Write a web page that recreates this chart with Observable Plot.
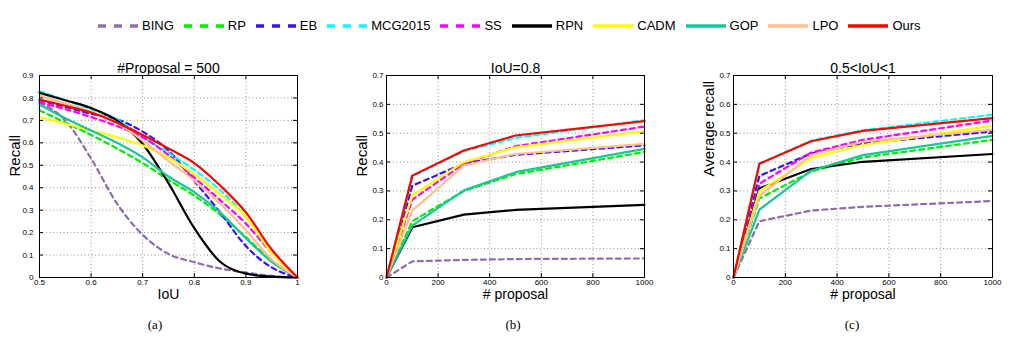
<!DOCTYPE html>
<html>
<head>
<meta charset="utf-8">
<script src="https://cdn.jsdelivr.net/npm/d3@7"></script>
<script src="https://cdn.jsdelivr.net/npm/@observablehq/plot@0.6"></script>
<style>
  body { margin: 0; background: #fff; width: 1024px; height: 339px; position: relative; overflow: hidden;
         font-family: "Liberation Sans", Arial, sans-serif; }
  .panel { position: absolute; top: 40px; }
  #legend { position: absolute; left: 98px; top: 18px; display: flex; align-items: center; font-size: 13px; white-space: nowrap; color: #000; }
  .item { display: flex; align-items: center; margin-right: 10px; }
  .item svg { margin-right: 4px; }
  .cap { position: absolute; top: 317px; font-family: "Liberation Serif", "Times New Roman", serif; font-size: 13px; transform: translateX(-50%); }
</style>
</head>
<body>
<div id="legend"></div>
<div id="pa" class="panel" style="left:0px"></div>
<div id="pb" class="panel" style="left:340px"></div>
<div id="pc" class="panel" style="left:680px"></div>
<div class="cap" style="left:155px">(a)</div>
<div class="cap" style="left:513px">(b)</div>
<div class="cap" style="left:852px">(c)</div>
<script>
// ---- categories / styles ----
const methods = ["BING", "RP", "EB", "MCG2015", "SS", "RPN", "CADM", "GOP", "LPO", "Ours"];
const colors  = ["#8E6DAA", "#00EE00", "#3A10FF", "#00FFFF", "#FF00FF", "#000000", "#FFFF00", "#17C79A", "#FFC08C", "#FF0000"];
const dashed  = [true, true, true, true, true, false, false, false, false, false];

// ---- x positions ----
const iouX  = [0.5, 0.55, 0.6, 0.65, 0.7, 0.75, 0.8, 0.85, 0.9, 0.95, 1.0];
const propX = [0, 100, 300, 500, 1000];

// ---- tick labels ----
const iouTicks     = [0.5, 0.6, 0.7, 0.8, 0.9, 1];
const recallTicksA = [0, 0.1, 0.2, 0.3, 0.4, 0.5, 0.6, 0.7, 0.8, 0.9];
const propTicks    = [0, 200, 400, 600, 800, 1000];
const recallTicksB = [0, 0.1, 0.2, 0.3, 0.4, 0.5, 0.6, 0.7];

// ---- (a) recall vs IoU, #proposal = 500 ----
const BING_a = [0.78, 0.70, 0.53, 0.33, 0.19, 0.105, 0.068, 0.04, 0.022, 0.007, 0];
const RP_a   = [0.745, 0.69, 0.635, 0.575, 0.51, 0.435, 0.365, 0.28, 0.18, 0.075, 0];
const EB_a   = [0.79, 0.76, 0.73, 0.705, 0.65, 0.565, 0.43, 0.29, 0.14, 0.045, 0];
const MCG_a  = [0.83, 0.79, 0.75, 0.705, 0.625, 0.555, 0.48, 0.39, 0.27, 0.115, 0];
const SS_a   = [0.78, 0.75, 0.715, 0.675, 0.625, 0.545, 0.445, 0.345, 0.24, 0.11, 0];
const RPN_a  = [0.823, 0.79, 0.755, 0.70, 0.595, 0.42, 0.22, 0.07, 0.017, 0.004, 0];
const CADM_a = [0.715, 0.685, 0.655, 0.625, 0.588, 0.535, 0.46, 0.37, 0.27, 0.11, 0];
const GOP_a  = [0.77, 0.71, 0.655, 0.60, 0.535, 0.45, 0.38, 0.29, 0.175, 0.07, 0];
const LPO_a  = [0.81, 0.775, 0.74, 0.69, 0.61, 0.52, 0.432, 0.33, 0.21, 0.08, 0];
const Ours_a = [0.793, 0.765, 0.735, 0.69, 0.635, 0.575, 0.51, 0.41, 0.29, 0.125, 0];

// ---- (b) recall vs #proposal, IoU = 0.8 ----
const BING_b = [0, 0.056, 0.061, 0.064, 0.066];
const RP_b   = [0, 0.195, 0.300, 0.358, 0.435];
const EB_b   = [0, 0.318, 0.395, 0.425, 0.458];
const MCG_b  = [0, 0.350, 0.437, 0.484, 0.545];
const SS_b   = [0, 0.270, 0.394, 0.455, 0.523];
const RPN_b  = [0, 0.174, 0.218, 0.234, 0.252];
const CADM_b = [0, 0.285, 0.400, 0.451, 0.507];
const GOP_b  = [0, 0.180, 0.302, 0.365, 0.446];
const LPO_b  = [0, 0.232, 0.388, 0.428, 0.463];
const Ours_b = [0, 0.353, 0.440, 0.492, 0.542];

// ---- (c) average recall vs #proposal, 0.5 < IoU < 1 ----
const BING_c = [0, 0.195, 0.232, 0.245, 0.265];
const RP_c   = [0, 0.274, 0.367, 0.416, 0.477];
const EB_c   = [0, 0.352, 0.430, 0.465, 0.506];
const MCG_c  = [0, 0.395, 0.474, 0.510, 0.564];
const SS_c   = [0, 0.325, 0.433, 0.477, 0.544];
const RPN_c  = [0, 0.309, 0.376, 0.401, 0.428];
const CADM_c = [0, 0.300, 0.414, 0.459, 0.526];
const GOP_c  = [0, 0.235, 0.370, 0.424, 0.491];
const LPO_c  = [0, 0.283, 0.424, 0.471, 0.512];
const Ours_c = [0, 0.394, 0.472, 0.508, 0.552];

const seriesA = [BING_a, RP_a, EB_a, MCG_a, SS_a, RPN_a, CADM_a, GOP_a, LPO_a, Ours_a];
const seriesB = [BING_b, RP_b, EB_b, MCG_b, SS_b, RPN_b, CADM_b, GOP_b, LPO_b, Ours_b];
const seriesC = [BING_c, RP_c, EB_c, MCG_c, SS_c, RPN_c, CADM_c, GOP_c, LPO_c, Ours_c];

// ---- legend ----
const legend = document.getElementById("legend");
methods.forEach((m, i) => {
  const it = document.createElement("div");
  it.className = "item";
  it.innerHTML = `<svg width="40" height="8"><line x1="0" y1="4" x2="40" y2="4" stroke="${colors[i]}" stroke-width="3.5" ${dashed[i] ? 'stroke-dasharray="8,8"' : ""}/></svg><span>${m}</span>`;
  legend.appendChild(it);
});

const fmtDec = d => String(+(+d).toFixed(1));
const fmtInt = d => String(d);

function panel(el, cfg) {
  const W = cfg.width, H = 265, mt = 35, mb = 28;
  const fw = W - cfg.ml - cfg.mr, fh = H - mt - mb;
  const marks = [
    Plot.ruleX(cfg.xTicks, {x: d => d, stroke: "#777", strokeWidth: 0.8, strokeDasharray: "1,2.5"}),
    Plot.ruleY(cfg.yTicks, {y: d => d, stroke: "#777", strokeWidth: 0.8, strokeDasharray: "1,2.5"})
  ];
  cfg.series.forEach((ys, i) => {
    const rows = cfg.xs.map((x, j) => ({x, y: ys[j]}));
    const opts = {x: "x", y: "y", stroke: colors[i], strokeWidth: 2.2, curve: cfg.curve};
    if (dashed[i]) opts.strokeDasharray = "5,4";
    marks.push(Plot.line(rows, opts));
  });
  marks.push(
    Plot.tickX(cfg.xTicks, {x: d => d, insetTop: fh - 4, stroke: "#000"}),
    Plot.tickX(cfg.xTicks, {x: d => d, insetBottom: fh - 4, stroke: "#000"}),
    Plot.tickY(cfg.yTicks, {y: d => d, insetRight: fw - 4, stroke: "#000"}),
    Plot.tickY(cfg.yTicks, {y: d => d, insetLeft: fw - 4, stroke: "#000"}),
    Plot.frame({stroke: "#000", strokeWidth: 1}),
    Plot.text([cfg.title], {text: d => d, frameAnchor: "top", dy: -12, fontSize: 14, fill: "#000"}),
    Plot.text([cfg.xLabel], {text: d => d, frameAnchor: "bottom", lineAnchor: "top", dy: 11.5, fontSize: 14, fill: "#000"}),
    Plot.text([cfg.yLabel], {text: d => d, frameAnchor: "left", dx: -24, rotate: -90, fontSize: 15, fill: "#000"})
  );
  const svg = Plot.plot({
    width: W, height: H,
    marginTop: mt, marginBottom: mb, marginLeft: cfg.ml, marginRight: cfg.mr,
    x: {domain: cfg.xDomain, ticks: cfg.xTicks, tickFormat: cfg.xFmt, tickSize: 0, tickPadding: 1.5, label: null},
    y: {domain: cfg.yDomain, ticks: cfg.yTicks, tickFormat: fmtDec, tickSize: 0, tickPadding: cfg.yPad, label: null},
    style: {fontFamily: "'Liberation Sans', Arial, sans-serif", fontSize: "8px", color: "#000", background: "transparent", overflow: "visible"},
    marks
  });
  document.getElementById(el).appendChild(svg);
}

panel("pa", {width: 340, ml: 39, mr: 43, yPad: 6, xDomain: [0.5, 1], yDomain: [0, 0.9], xTicks: iouTicks, yTicks: recallTicksA,
  xFmt: fmtDec, xs: iouX, series: seriesA, curve: "monotone-x", title: "#Proposal = 500", xLabel: "IoU", yLabel: "Recall"});
panel("pb", {width: 340, ml: 46, mr: 36, yPad: 3, xDomain: [0, 1000], yDomain: [0, 0.7], xTicks: propTicks, yTicks: recallTicksB,
  xFmt: fmtInt, xs: propX, series: seriesB, curve: "linear", title: "IoU=0.8", xLabel: "# proposal", yLabel: "Recall"});
panel("pc", {width: 344, ml: 53, mr: 32, yPad: 3, xDomain: [0, 1000], yDomain: [0, 0.7], xTicks: propTicks, yTicks: recallTicksB,
  xFmt: fmtInt, xs: propX, series: seriesC, curve: "linear", title: "0.5<IoU<1", xLabel: "# proposal", yLabel: "Average recall"});
</script>
</body>
</html>
